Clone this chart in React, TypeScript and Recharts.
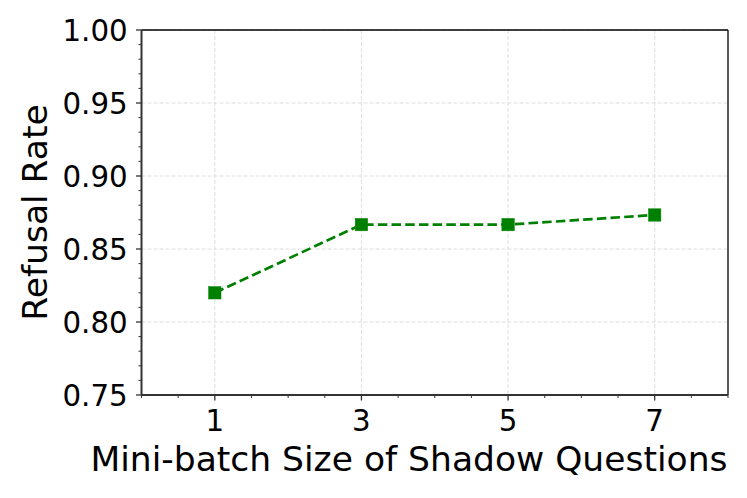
import React from "react";
import {
  LineChart,
  Line,
  XAxis,
  YAxis,
  CartesianGrid,
  ReferenceLine,
  Label,
} from "recharts";

const batchSizes = [1, 3, 5, 7];
const refusalRates = [0.82, 0.8667, 0.8667, 0.8733];
const xMajorTicks = [1, 3, 5, 7];
const xMinorTicks = [0, 0.5, 1.5, 2, 2.5, 3.5, 4, 4.5, 5.5, 6, 6.5, 7.5, 8];
const yMajorTicks = [0.75, 0.8, 0.85, 0.9, 0.95, 1.0];
const yMinorTicks = [
  0.76, 0.77, 0.78, 0.79, 0.81, 0.82, 0.83, 0.84, 0.86, 0.87, 0.88, 0.89,
  0.91, 0.92, 0.93, 0.94, 0.96, 0.97, 0.98, 0.99,
];
const xLabel = "Mini-batch Size of Shadow Questions";
const yLabel = "Refusal Rate";

const data = batchSizes.map((x, i) => ({ x, y: refusalRates[i] }));
const xAllTicks = [...xMajorTicks, ...xMinorTicks].sort((a, b) => a - b);
const yAllTicks = [...yMajorTicks, ...yMinorTicks].sort((a, b) => a - b);

const FONT = "'DejaVu Sans', sans-serif";
const GREEN = "#008000";
const TICK_COLOR = "#333";

const isMajor = (list: number[], v: number) =>
  list.some((m) => Math.abs(m - v) < 1e-9);

const XTick = (props: any) => {
  const { x, y, payload } = props;
  const major = isMajor(xMajorTicks, payload.value);
  return (
    <g>
      <line
        x1={x}
        x2={x}
        y1={y}
        y2={y + (major ? 5.5 : 3)}
        stroke={TICK_COLOR}
        strokeWidth={major ? 1.3 : 1}
      />
      {major && (
        <text
          x={x}
          y={y + 36}
          textAnchor="middle"
          fontSize={29.3}
          fontFamily={FONT}
          fill="#000"
        >
          {String(payload.value)}
        </text>
      )}
    </g>
  );
};

const YTick = (props: any) => {
  const { x, y, payload } = props;
  const major = isMajor(yMajorTicks, payload.value);
  return (
    <g>
      <line
        x1={x - (major ? 5.5 : 3)}
        x2={x}
        y1={y}
        y2={y}
        stroke={TICK_COLOR}
        strokeWidth={major ? 1.3 : 1}
      />
      {major && (
        <text
          x={x - 13.8}
          y={y + 10.6}
          textAnchor="end"
          fontSize={29.3}
          fontFamily={FONT}
          fill="#000"
        >
          {Number(payload.value).toFixed(2)}
        </text>
      )}
    </g>
  );
};

const SquareDot = (props: any) => {
  const { cx, cy, index } = props;
  if (cx == null || cy == null) return <g key={`d${index}`} />;
  return (
    <rect
      key={`d${index}`}
      x={cx - 6.2}
      y={cy - 6.2}
      width={12.4}
      height={12.4}
      fill={GREEN}
      stroke={GREEN}
      strokeWidth={0.5}
    />
  );
};

export default function App() {
  return (
    <div style={{ width: 747, height: 498, background: "#fff" }}>
      <style>{"body{margin:0;}"}</style>
      <LineChart
        width={747}
        height={498}
        data={data}
        margin={{ top: 30, right: 19, bottom: 0, left: 0 }}
        style={{ fontFamily: FONT }}
      >
        <CartesianGrid
          stroke="#d6d6d6"
          strokeDasharray="4 2"
          strokeWidth={0.8}
          horizontalValues={yMajorTicks}
          verticalValues={xMajorTicks}
        />
        <XAxis
          dataKey="x"
          type="number"
          domain={[0, 8]}
          ticks={xAllTicks}
          interval={0}
          height={103}
          tickSize={0}
          tickMargin={0}
          tickLine={false}
          axisLine={{ stroke: TICK_COLOR, strokeWidth: 2 }}
          tick={<XTick />}
        >
          <Label
            content={(p: any) => {
              const vb = p.viewBox || {};
              return (
                <text
                  x={vb.x + vb.width / 2 - 25.75}
                  y={vb.y + 75.7}
                  textAnchor="middle"
                  fontSize={34.5}
                  fontFamily={FONT}
                  fill="#000"
                >
                  {xLabel}
                </text>
              );
            }}
          />
        </XAxis>
        <YAxis
          type="number"
          domain={[0.75, 1.0]}
          ticks={yAllTicks}
          interval={0}
          width={141.5}
          tickSize={0}
          tickMargin={0}
          tickLine={false}
          axisLine={{ stroke: TICK_COLOR, strokeWidth: 2 }}
          tick={<YTick />}
        >
          <Label
            content={(p: any) => {
              const vb = p.viewBox || {};
              const cx = vb.x + vb.width - 95;
              const cy = vb.y + vb.height / 2;
              return (
                <text
                  x={cx}
                  y={cy}
                  transform={`rotate(-90 ${cx} ${cy})`}
                  textAnchor="middle"
                  fontSize={34.5}
                  fontFamily={FONT}
                  fill="#000"
                >
                  {yLabel}
                </text>
              );
            }}
          />
        </YAxis>
        <ReferenceLine y={1.0} stroke="#000" strokeWidth={1.3} />
        <ReferenceLine x={8} stroke="#000" strokeWidth={1.3} />
        <Line
          type="linear"
          dataKey="y"
          stroke={GREEN}
          strokeWidth={2.7}
          strokeDasharray="9.5 4.2"
          dot={SquareDot}
          activeDot={false}
          isAnimationActive={false}
        />
      </LineChart>
    </div>
  );
}
